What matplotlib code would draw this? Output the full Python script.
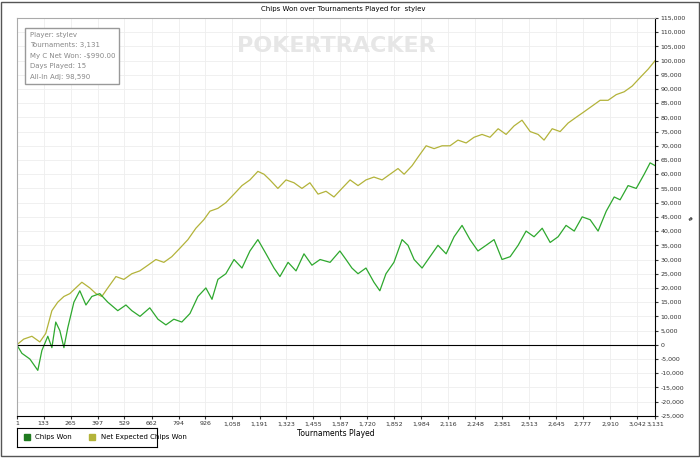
import matplotlib
matplotlib.use("Agg")
import matplotlib.pyplot as plt
from matplotlib.patches import Rectangle

won_t = [1, 26, 65, 104, 124, 153, 173, 192, 212, 232, 251, 281, 310, 340, 369, 408, 447, 496, 536, 565,
         605, 653, 693, 732, 771, 810, 850, 889, 928, 958, 987, 1026, 1066, 1105, 1144, 1183, 1223, 1262,
         1291, 1331, 1370, 1409, 1448, 1488, 1537, 1585, 1615, 1644, 1674, 1713, 1752, 1781, 1811, 1850,
         1890, 1919, 1949, 1988, 2027, 2066, 2106, 2145, 2184, 2223, 2262, 2302, 2341, 2380, 2420, 2459,
         2498, 2537, 2577, 2616, 2655, 2694, 2734, 2773, 2812, 2851, 2891, 2930, 2959, 2998, 3038, 3077,
         3106, 3131]
won = [0, -3000, -5000, -9000, -2000, 3000, -1000, 8000, 5000, -1000, 6000, 15000, 19000, 14000, 17000,
       18000, 15000, 12000, 14000, 12000, 10000, 13000, 9000, 7000, 9000, 8000, 11000, 17000, 20000, 16000,
       23000, 25000, 30000, 27000, 33000, 37000, 32000, 27000, 24000, 29000, 26000, 32000, 28000, 30000,
       29000, 33000, 30000, 27000, 25000, 27000, 22000, 19000, 25000, 29000, 37000, 35000, 30000, 27000,
       31000, 35000, 32000, 38000, 42000, 37000, 33000, 35000, 37000, 30000, 31000, 35000, 40000, 38000,
       41000, 36000, 38000, 42000, 40000, 45000, 44000, 40000, 47000, 52000, 51000, 56000, 55000, 60000,
       64000, 63000]

exp_t = [1, 35, 75, 114, 143, 173, 202, 232, 261, 290, 320, 359, 389, 418, 447, 487, 526, 565, 604, 644,
         683, 722, 761, 801, 840, 879, 918, 948, 987, 1026, 1066, 1105, 1144, 1183, 1213, 1242, 1281, 1321,
         1360, 1399, 1438, 1478, 1517, 1556, 1595, 1635, 1674, 1713, 1752, 1792, 1831, 1870, 1900, 1939,
         1968, 2008, 2047, 2086, 2125, 2164, 2204, 2243, 2282, 2321, 2361, 2400, 2439, 2478, 2518, 2557,
         2586, 2626, 2665, 2704, 2743, 2783, 2822, 2861, 2900, 2940, 2979, 3018, 3057, 3097, 3131]
expected = [0, 2000, 3000, 1000, 4000, 12000, 15000, 17000, 18000, 20000, 22000, 20000, 18000, 17000,
            20000, 24000, 23000, 25000, 26000, 28000, 30000, 29000, 31000, 34000, 37000, 41000, 44000,
            47000, 48000, 50000, 53000, 56000, 58000, 61000, 60000, 58000, 55000, 58000, 57000, 55000,
            57000, 53000, 54000, 52000, 55000, 58000, 56000, 58000, 59000, 58000, 60000, 62000, 60000,
            63000, 66000, 70000, 69000, 70000, 70000, 72000, 71000, 73000, 74000, 73000, 76000, 74000,
            77000, 79000, 75000, 74000, 72000, 76000, 75000, 78000, 80000, 82000, 84000, 86000, 86000,
            88000, 89000, 91000, 94000, 97000, 100000]

xticks = [1, 133, 265, 397, 529, 662, 794, 926, 1058, 1191, 1323, 1455, 1587, 1720, 1852, 1984, 2116,
          2248, 2381, 2513, 2645, 2777, 2910, 3042, 3131]
info = ["Player: stylev", "Tournaments: 3,131", "My C Net Won: -$990.00", "Days Played: 15",
        "All-In Adj: 98,590"]

fig = plt.figure(figsize=(7, 4.58), dpi=100)
fig.patches.append(Rectangle((0.002, 0.004), 0.996, 0.992, transform=fig.transFigure,
                             fill=False, edgecolor="#555555", lw=1))
ax = fig.add_axes([0.024, 0.092, 0.912, 0.869])
ax.plot(exp_t, expected, color="#b3b33a", lw=0.9)
ax.plot(won_t, won, color="#2ea82e", lw=0.9)
ax.axhline(0, color="black", lw=0.8)
ax.set_xlim(1, 3131)
ax.set_ylim(-25000, 115000)
ax.set_xticks(xticks)
ax.set_xticklabels([f"{v:,}" for v in xticks], fontsize=4.5)
yt = list(range(-25000, 115001, 5000))
ax.set_yticks(yt)
ax.set_yticklabels([f"{v:,}" for v in yt], fontsize=4.5)
ax.yaxis.tick_right()
ax.set_xlabel("Tournaments Played", fontsize=5.5, labelpad=2)
fig.text(0.986, 0.52, "#", fontsize=4.5, va="center", ha="center")
ax.tick_params(length=2, pad=2, colors="#333333")
ax.grid(color="#eeeeee", lw=0.6)
for s in ["top", "left"]:
    ax.spines[s].set_color("#aaaaaa")
fig.text(0.49, 0.975, "Chips Won over Tournaments Played for  stylev", ha="center", fontsize=5)
ax.text(0.5, 0.93, "POKERTRACKER", transform=ax.transAxes, ha="center", va="center",
        fontsize=16, color="#e6e6e6", fontweight="bold")
ax.text(0.02, 0.965, "\n".join(info), transform=ax.transAxes, va="top", fontsize=5, color="#888888",
        linespacing=1.9, bbox=dict(facecolor="white", edgecolor="#999999", boxstyle="square,pad=0.6"))
lax = fig.add_axes([0.024, 0.025, 0.2, 0.04])
lax.plot([], [], "s", color="#1f7a1f", ms=4, label="Chips Won")
lax.plot([], [], "s", color="#b3b33a", ms=4, label="Net Expected Chips Won")
lax.legend(loc="center left", ncol=2, fontsize=5, frameon=False, handletextpad=0.2, borderaxespad=0)
lax.set_xticks([])
lax.set_yticks([])
fig.savefig("out.png", dpi=100)
